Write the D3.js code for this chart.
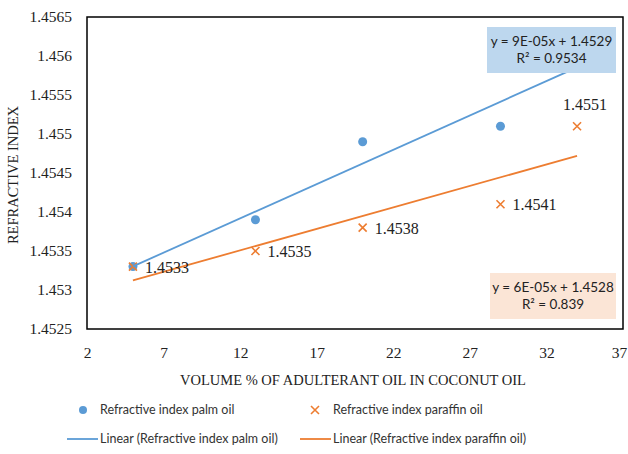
<!DOCTYPE html>
<html>
<head>
<meta charset="utf-8">
<script src="https://cdn.jsdelivr.net/npm/d3@7"></script>
<style>
  body { margin: 0; background: #fff; }
  svg { display: block; }
</style>
</head>
<body>
<div id="chart"></div>
<script>
const volume = [5, 13, 20, 29, 34];
const palm_oil = [1.4533, 1.4539, 1.4549, 1.4551, 1.4560];
const paraffin_oil = [1.4533, 1.4535, 1.4538, 1.4541, 1.4551];
// where each paraffin value label sits
const paraffin_labels = ['right', 'right', 'right', 'right', 'above'];
const x_ticks = [2, 7, 12, 17, 22, 27, 32, 37];
const y_ticks = [1.4525, 1.453, 1.4535, 1.454, 1.4545, 1.455, 1.4555, 1.456, 1.4565];
const palm_eq = ['y = 9E-05x + 1.4529', 'R² = 0.9534'];
const paraffin_eq = ['y = 6E-05x + 1.4528', 'R² = 0.839'];
const legend_names = ['Refractive index palm oil', 'Refractive index paraffin oil',
  'Linear (Refractive index palm oil)', 'Linear (Refractive index paraffin oil)'];

const blue = '#5b9bd5', orange = '#ed7d31';
const serif = '"Liberation Serif", "DejaVu Serif", serif';
const sans = 'Lato, "Open Sans", sans-serif';
const W = 628, H = 454;
const margin = {top: 17, right: 5, bottom: 125, left: 87};
const width = W - margin.left - margin.right;
const height = H - margin.top - margin.bottom;

const x = d3.scaleLinear().domain([2, 37]).range([0, width]);
const y = d3.scaleLinear().domain([1.4525, 1.4565]).range([height, 0]);

const svg = d3.select('#chart').append('svg')
  .attr('width', W).attr('height', H)
  .append('g').attr('transform', 'translate(' + [margin.left, margin.top] + ')');

svg.append('g')
  .attr('transform', 'translate(0,' + height + ')')
  .call(d3.axisBottom(x).tickValues(x_ticks).tickSize(0).tickPadding(18))
  .attr('font-family', serif).attr('font-size', 15.5)
  .call(g => g.select('.domain').remove())
  .call(g => g.selectAll('text').attr('fill', '#222'))
  // keep the last label inside the page
  .call(g => g.selectAll('text').filter(d => d == 37).attr('dx', -4));
svg.append('g')
  .call(d3.axisLeft(y).tickValues(y_ticks).tickSize(0).tickPadding(15)
    .tickFormat(d => String(+d.toFixed(4))))
  .attr('font-family', serif).attr('font-size', 15.5)
  .call(g => g.select('.domain').remove())
  .call(g => g.selectAll('text').attr('fill', '#222'));

svg.append('rect')
  .attr('width', width).attr('height', height)
  .attr('fill', 'none').attr('stroke', '#000').attr('stroke-width', 1.5);

svg.append('text')
  .attr('transform', 'translate(-69,' + (height / 2 + 2) + ') rotate(-90)')
  .attr('text-anchor', 'middle')
  .attr('font-family', serif).attr('font-size', 14.5).attr('fill', '#222')
  .text('REFRACTIVE INDEX');
svg.append('text')
  .attr('x', width / 2 - 2).attr('y', height + 56)
  .attr('text-anchor', 'middle')
  .attr('font-family', serif).attr('font-size', 14.5).attr('fill', '#222')
  .text('VOLUME % OF ADULTERANT OIL IN COCONUT OIL');

// least squares trend line
function fit(xs, ys) {
  const mx = d3.mean(xs), my = d3.mean(ys);
  const sxy = d3.sum(xs, (v, i) => (v - mx) * (ys[i] - my));
  const sxx = d3.sum(xs, v => (v - mx) * (v - mx));
  const b = sxy / sxx;
  return v => my + b * (v - mx);
}
const palm_fit = fit(volume, palm_oil);
const paraffin_fit = fit(volume, paraffin_oil);
const ext = d3.extent(volume);

// markers
svg.selectAll('.palm').data(volume).enter().append('circle')
  .attr('class', 'palm')
  .attr('cx', d => x(d)).attr('cy', (d, i) => y(palm_oil[i]))
  .attr('r', 4.5).attr('fill', blue);

const cross = (g, cx, cy, s) => g.append('path')
  .attr('d', `M${cx - s},${cy - s}L${cx + s},${cy + s}M${cx - s},${cy + s}L${cx + s},${cy - s}`)
  .attr('stroke', orange).attr('stroke-width', 1.6).attr('fill', 'none');
volume.forEach((d, i) => cross(svg, x(d), y(paraffin_oil[i]), 4));

// trend lines
[[palm_fit, blue], [paraffin_fit, orange]].forEach(([f, c]) => {
  svg.append('line')
    .attr('x1', x(ext[0])).attr('y1', y(f(ext[0])))
    .attr('x2', x(ext[1])).attr('y2', y(f(ext[1])))
    .attr('stroke', c).attr('stroke-width', 1.8);
});

// value labels
svg.selectAll('.vlabel').data(volume).enter().append('text')
  .attr('font-family', serif).attr('font-size', 16).attr('fill', '#222')
  .attr('x', (d, i) => paraffin_labels[i] == 'above' ? x(d) + 8 : x(d) + 12)
  .attr('y', (d, i) => paraffin_labels[i] == 'above' ? y(paraffin_oil[i]) - 16 : y(paraffin_oil[i]) + 6)
  .attr('text-anchor', (d, i) => paraffin_labels[i] == 'above' ? 'middle' : 'start')
  .text((d, i) => paraffin_oil[i].toFixed(4));

// equation boxes
function eq_box(lines, bx, by, bw, fill) {
  const g = svg.append('g');
  g.append('rect').attr('x', bx).attr('y', by).attr('width', bw).attr('height', 46).attr('fill', fill);
  g.selectAll('text').data(lines).enter().append('text')
    .attr('x', bx + bw / 2).attr('y', (d, i) => by + 19 + i * 17)
    .attr('text-anchor', 'middle')
    .attr('font-family', sans).attr('font-size', 13.5).attr('fill', '#222')
    .text(d => d);
}
eq_box(palm_eq, 400, 10, 129, '#bdd7ee');
eq_box(paraffin_eq, 403, 256, 126, '#fbe5d6');

// legend
const leg = d3.select('svg').append('g')
  .attr('font-family', sans).attr('font-size', 12.5).attr('fill', '#333');
const lx = [100, 333], ly = [414, 443];
leg.append('circle').attr('cx', 83).attr('cy', ly[0] - 4).attr('r', 4).attr('fill', blue);
cross(leg, 315, ly[0] - 4, 4);
leg.append('line').attr('x1', 67).attr('x2', 98).attr('y1', ly[1] - 4).attr('y2', ly[1] - 4)
  .attr('stroke', blue).attr('stroke-width', 1.8);
leg.append('line').attr('x1', 300).attr('x2', 331).attr('y1', ly[1] - 4).attr('y2', ly[1] - 4)
  .attr('stroke', orange).attr('stroke-width', 1.8);
legend_names.forEach((n, i) => {
  leg.append('text').attr('x', lx[i % 2]).attr('y', ly[Math.floor(i / 2)]).text(n);
});
</script>
</body>
</html>
